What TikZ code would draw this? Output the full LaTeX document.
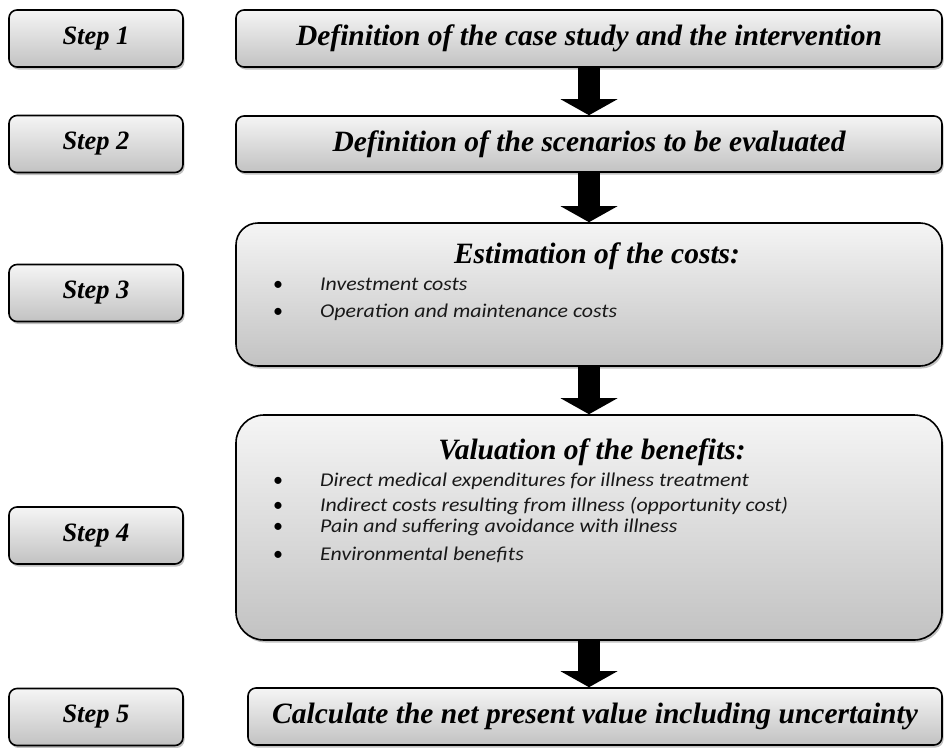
\documentclass[tikz,border=0pt]{standalone}
\usepackage{fontspec}
\setmainfont{Liberation Serif}
\newfontfamily\listfont[FakeStretch=1.12]{Carlito}
\newfontfamily\dotfont{Carlito}
\usetikzlibrary{arrows.meta, calc, shadows}
\definecolor{boxtop}{RGB}{245,245,245}
\definecolor{boxbottom}{RGB}{194,194,194}

\tikzset{
    stepbox/.style={draw=black, line width=1.6pt, rounded corners=8pt,
        top color=boxtop, bottom color=boxbottom, inner sep=0pt,
        drop shadow={shadow xshift=1.5pt, shadow yshift=-2.5pt, opacity=0.35, fill=black!70},
        font=\fontsize{26.5}{30}\selectfont\bfseries\itshape},
    taskbox/.style={stepbox, font=\fontsize{29.5}{34}\selectfont\bfseries\itshape},
    titletext/.style={inner sep=0pt, anchor=base, font=\fontsize{29.5}{34}\selectfont\bfseries\itshape},
    bulletdot/.style={inner sep=0pt, anchor=base, font=\dotfont\fontsize{20}{22}\selectfont},
    bulletline/.style={inner sep=0pt, anchor=base west, text=black!90, font=\listfont\itshape\fontsize{19.5}{22}\selectfont},
    flow/.style={line width=22pt, -{Triangle[width=57pt, length=16pt, line width=0pt]}},
}

\begin{document}
\begin{tikzpicture}[x=1pt, y=-1pt]

    \useasboundingbox (0,0) rectangle (944,747);

    \def\W{706pt}
    \def\H{57pt}

    % ==========================================================
    % step labels on the left
    % ==========================================================
    \foreach \k/\y in {1/38.5, 2/144, 3/293, 4/535.5, 5/717} {
        \node[stepbox, minimum width=174pt, minimum height=\H] (s\k) at (96,\y) {Step \k};
    }

    % ==========================================================
    % the tasks on the right
    % ==========================================================
    \node[taskbox, minimum width=\W, minimum height=\H] (b1) at (589,38.5)
        {Definition of the case study and the intervention};
    \node[taskbox, minimum width=\W, minimum height=56pt] (b2) at (589,144)
        {Definition of the scenarios to be evaluated};
    \node[taskbox, rounded corners=22pt, minimum width=\W, minimum height=143pt] (b3) at (589,294.5) {};
    \node[taskbox, rounded corners=28pt, minimum width=\W, minimum height=225pt] (b4) at (589,527.5) {};
    \node[taskbox, minimum width=694pt, minimum height=\H] (b5) at (595,716.5)
        {Calculate the net present value including uncertainty};

    % costs
    \node[titletext] (t3) at (597,263) {Estimation of the costs:};
    \foreach \y/\txt [count=\i] in {290/Investment costs, 317/Operation and maintenance costs} {
        \node[bulletdot] (c\i) at (278,\y) {•};
        \node[bulletline] (ct\i) at (320,\y) {\txt};
    }

    % benefits
    \node[titletext] (t4) at (592,459) {Valuation of the benefits:};
    \foreach \y/\txt [count=\i] in {486/Direct medical expenditures for illness treatment,
                                    511/Indirect costs resulting from illness (opportunity cost),
                                    532/Pain and suffering avoidance with illness,
                                    560/Environmental benefits} {
        \node[bulletdot] (v\i) at (278,\y) {•};
        \node[bulletline] (vt\i) at (320,\y) {\txt};
    }

    % ==========================================================
    % block arrows between the tasks
    % ==========================================================
    \draw[flow] (b1.south) -- (b2.north);
    \draw[flow] (b2.south) -- (b3.north);
    \draw[flow] (b3.south) -- (b4.north);
    \draw[flow] (b4.south) -- (b4.south |- b5.north);

\end{tikzpicture}
\end{document}
